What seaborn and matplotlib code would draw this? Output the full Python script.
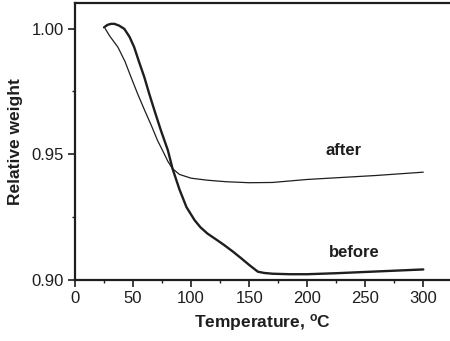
import matplotlib
matplotlib.use("Agg")
import matplotlib.pyplot as plt
import seaborn as sns
import pandas as pd
from matplotlib.ticker import MultipleLocator

# Data (temperature in degC, relative weight)
after_T = [26, 30, 37, 43, 48, 54, 60, 66, 71, 76, 80, 84, 90, 100, 114, 130, 150, 170, 200, 230, 260, 300]
after_y = [1.000, 0.9970, 0.9926, 0.9870, 0.9810, 0.9740, 0.9675, 0.9612, 0.9556, 0.9510, 0.9472, 0.9443,
           0.9420, 0.9405, 0.9397, 0.9391, 0.9387, 0.9388, 0.9400, 0.9408, 0.9416, 0.9429]

before_T = [25, 28, 31, 34, 38, 42.5, 47, 51, 55, 59.7, 64, 68.4, 74, 80, 84, 90, 96, 103, 108, 114,
            121, 128.5, 136, 143, 150, 157.5, 163, 170, 185, 200, 225, 250, 275, 300]
before_y = [1.0005, 1.0015, 1.0019, 1.0019, 1.0012, 0.9999, 0.9967, 0.9926, 0.9870, 0.9807, 0.9740, 0.9675,
            0.9595, 0.9516, 0.9443, 0.9360, 0.9290, 0.9238, 0.9210, 0.9185, 0.9163, 0.9139, 0.9113, 0.9087,
            0.9060, 0.9033, 0.9028, 0.9025, 0.9023, 0.9023, 0.9027, 0.9032, 0.9037, 0.9042]

x_ticks = [0, 50, 100, 150, 200, 250, 300]
y_ticks = [0.90, 0.95, 1.00]
y_ticklabels = ["0.90", "0.95", "1.00"]

sns.set_theme(style="ticks")
plt.rcParams["font.family"] = ["Liberation Sans", "DejaVu Sans"]
plt.rcParams["mathtext.fontset"] = "custom"
plt.rcParams["mathtext.rm"] = "Liberation Sans"
plt.rcParams["mathtext.bf"] = "Liberation Sans:bold"

fig = plt.figure(figsize=(4.5, 3.41), dpi=100)
ax = fig.add_axes([75 / 450, 1 - 280 / 341, 1 - 75 / 450, (280 - 3) / 341])

ink = "#1e1e1e"
df_after = pd.DataFrame({"T": after_T, "w": after_y})
df_before = pd.DataFrame({"T": before_T, "w": before_y})
sns.lineplot(data=df_after, x="T", y="w", ax=ax, color=ink, lw=0.9, sort=False, estimator=None)
sns.lineplot(data=df_before, x="T", y="w", ax=ax, color=ink, lw=1.7, sort=False, estimator=None)

ax.set_xlim(0, 323)
ax.set_ylim(0.90, 1.0102)
ax.set_xticks(x_ticks)
ax.set_xticklabels([str(t) for t in x_ticks])
ax.set_yticks(y_ticks)
ax.set_yticklabels(y_ticklabels)
ax.xaxis.set_minor_locator(MultipleLocator(25))
ax.yaxis.set_minor_locator(MultipleLocator(0.025))
ax.tick_params(axis="both", which="major", direction="out", length=5, width=1.2,
               labelsize=12, colors=ink, pad=3)
ax.tick_params(axis="both", which="minor", direction="out", length=2.5, width=1.0, colors=ink)

for side in ["left", "bottom", "top"]:
    ax.spines[side].set_visible(True)
    ax.spines[side].set_linewidth(1.6)
    ax.spines[side].set_color(ink)
ax.spines["right"].set_visible(False)

ax.set_xlabel(r"Temperature, $\mathbf{^{o}}$C", fontsize=12.5, fontweight="bold", color=ink, labelpad=4)
ax.set_ylabel("Relative weight", fontsize=12.5, fontweight="bold", color=ink, labelpad=6)

ax.text(231, 0.9516, "after", fontsize=12, fontweight="bold", color=ink, ha="center", va="center")
ax.text(241, 0.9111, "before", fontsize=12, fontweight="bold", color=ink, ha="center", va="center")

fig.savefig("out.png", dpi=100)
